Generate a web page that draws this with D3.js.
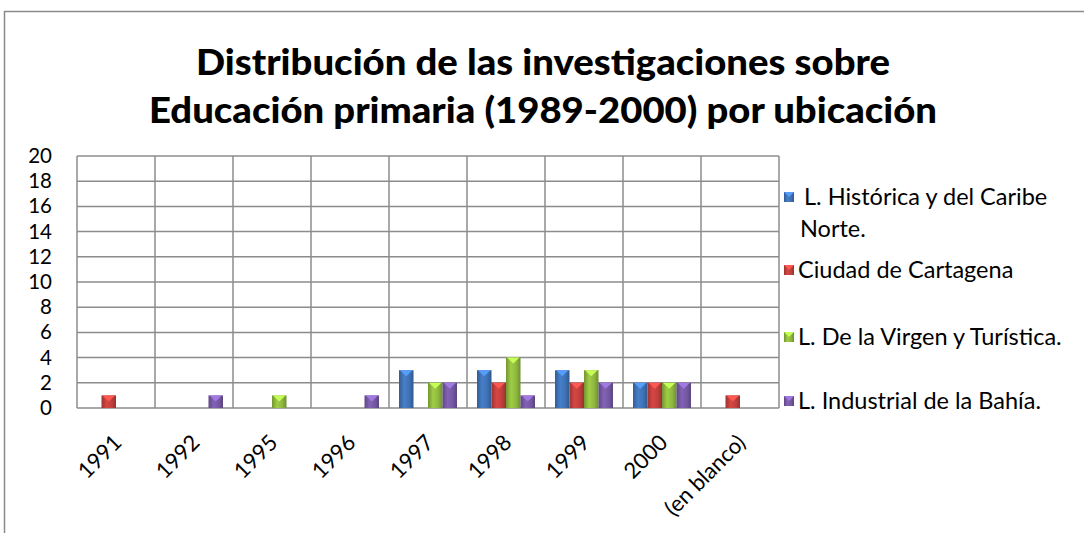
<!DOCTYPE html>
<html>
<head>
<meta charset="utf-8">
<script src="https://cdn.jsdelivr.net/npm/d3@7"></script>
<style>
  body { margin: 0; background: #fff; }
  svg { display: block; font-family: Lato, "Open Sans", sans-serif; }
</style>
</head>
<body>
<div id="chart"></div>
<script>
var categories = ['1991', '1992', '1995', '1996', '1997', '1998', '1999', '2000', '(en blanco)']
var seriesNames = [' L. Histórica y del Caribe Norte.', 'Ciudad de Cartagena', 'L. De la Virgen y Turística.', 'L. Industrial de la Bahía.']
var historica  = [0, 0, 0, 0, 3, 3, 3, 2, 0]
var cartagena  = [1, 0, 0, 0, 0, 2, 2, 2, 1]
var virgen     = [0, 0, 1, 0, 2, 4, 3, 2, 0]
var industrial = [0, 1, 0, 1, 2, 1, 2, 2, 0]
var yTicks = [0, 2, 4, 6, 8, 10, 12, 14, 16, 18, 20]

var colors = ['#3f72b5', '#c0403c', '#8fb83e', '#7558a3']
var values = [historica, cartagena, virgen, industrial]

var W = 1084, H = 533
var svg = d3.select('#chart').append('svg').attr('width', W).attr('height', H)

// outer chart border (only top & left visible)
svg.append('rect').attr('x', 4.5).attr('y', 11.5).attr('width', W + 10).attr('height', H + 10)
  .attr('fill', 'none').attr('stroke', '#8a8a8a').attr('stroke-width', 1.5)

// title
var title = svg.append('text').attr('text-anchor', 'middle')
  .style('font-weight', '900').style('font-size', '36px').attr('fill', '#000')
title.append('tspan').attr('x', 543).attr('y', 75).text('Distribución de las investigaciones sobre')
  .attr('textLength', 694).attr('lengthAdjust', 'spacingAndGlyphs')
title.append('tspan').attr('x', 543).attr('y', 123).text('Educación primaria (1989-2000) por ubicación')
  .attr('textLength', 788).attr('lengthAdjust', 'spacingAndGlyphs')

var m = {left: 77, top: 156, right: 779, bottom: 408}
var x0 = d3.scaleBand().domain(categories).range([m.left, m.right]).paddingInner(0).paddingOuter(0)
var x1 = d3.scaleBand().domain(d3.range(4)).range([0, x0.bandwidth()]).paddingInner(0).paddingOuter(0.69)
var y = d3.scaleLinear().domain([0, 20]).range([m.bottom, m.top])

var grid = svg.append('g').attr('stroke', '#8c8c8c').attr('stroke-width', 1.5)
grid.selectAll('line.h').data(yTicks).join('line')
  .attr('x1', m.left).attr('x2', m.right).attr('y1', d => y(d)).attr('y2', d => y(d))
grid.selectAll('line.v').data(categories.concat(['end'])).join('line')
  .attr('x1', (d, i) => m.left + i * x0.step()).attr('x2', (d, i) => m.left + i * x0.step())
  .attr('y1', m.top).attr('y2', m.bottom)

// y axis
var yAxis = svg.append('g').attr('transform', 'translate(' + 52 + ',0)')
  .call(d3.axisLeft(y).tickValues(yTicks).tickSize(0).tickPadding(0))
yAxis.select('.domain').remove()
yAxis.selectAll('text').style('font-size', '20.5px').style('font-family', 'Lato, sans-serif').attr('fill', '#000')

// gradients
var defs = svg.append('defs')
colors.forEach(function(c, i) {
  var g = defs.append('linearGradient').attr('id', 'g' + i).attr('x1', 0).attr('x2', 1).attr('y1', 0).attr('y2', 0)
  g.append('stop').attr('offset', '0%').attr('stop-color', d3.color(c).darker(0.6))
  g.append('stop').attr('offset', '35%').attr('stop-color', d3.color(c).brighter(0.3))
  g.append('stop').attr('offset', '70%').attr('stop-color', c)
  g.append('stop').attr('offset', '100%').attr('stop-color', d3.color(c).darker(0.7))
})

// bars
var bars = []
categories.forEach(function(cat, ci) {
  values.forEach(function(v, si) {
    if (v[ci] > 0) bars.push({cat: cat, s: si, v: v[ci]})
  })
})
var bw = x1.bandwidth()
var bg = svg.append('g')
bg.selectAll('rect').data(bars).join('rect')
  .attr('x', d => x0(d.cat) + x1(d.s)).attr('width', bw)
  .attr('y', d => y(d.v)).attr('height', d => y(0) - y(d.v))
  .attr('fill', d => 'url(#g' + d.s + ')')
bg.selectAll('path').data(bars).join('path')
  .attr('d', function(d) {
    var bx = x0(d.cat) + x1(d.s), by = y(d.v)
    return 'M' + (bx + 1) + ',' + by + 'L' + (bx + bw - 1) + ',' + by + 'L' + (bx + bw / 2) + ',' + (by + 6) + 'Z'
  })
  .attr('fill', d => d3.color(colors[d.s]).brighter(0.9))

// x labels
svg.append('g').selectAll('text').data(categories).join('text')
  .attr('transform', d => 'translate(' + (x0(d) + x0.bandwidth() / 2 + 7) + ',' + 444 + ') rotate(-45)')
  .attr('text-anchor', 'end')
  .style('font-size', '22px').text(d => d)

// legend
var legY = [197, 270, 337, 401]
var leg = svg.append('g')
seriesNames.forEach(function(name, i) {
  var g = leg.append('g').attr('transform', 'translate(784,' + legY[i] + ')')
  g.append('rect').attr('x', 0).attr('y', -5).attr('width', 10).attr('height', 10).attr('fill', 'url(#g' + i + ')')
  g.append('path').attr('d', 'M0,-5L10,-5L5,0Z').attr('fill', d3.color(colors[i]).brighter(0.9))
  if (i === 0) {
    g.append('text').attr('x', 20).attr('y', 8).style('font-size', '23.5px').text('L. Histórica y del Caribe')
    g.append('text').attr('x', 16).attr('y', 40).style('font-size', '23.5px').text('Norte.')
  } else {
    g.append('text').attr('x', 14).attr('y', 8).style('font-size', '23.5px').text(name)
  }
})
</script>
</body>
</html>
